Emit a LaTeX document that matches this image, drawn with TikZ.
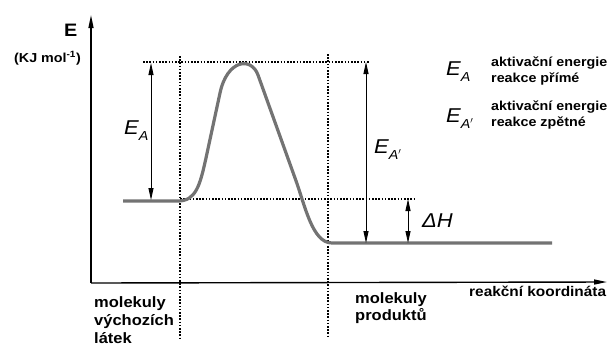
\documentclass[tikz,border=0pt]{standalone}
\usepackage{fontspec}
\setmainfont{Liberation Sans}[FakeStretch=1.1]
\usetikzlibrary{arrows.meta}
\newcommand{\Elab}[1]{{\fontsize{20}{20}\selectfont\itshape E}\raisebox{-6pt}{\fontsize{13}{13}\selectfont\itshape #1}}
\begin{document}
\begin{tikzpicture}[x=1pt,y=-1pt,
  axisline/.style={line width=1.4pt,-{Triangle[length=13pt,width=5pt]}},
  dotline/.style={line width=1.7pt,dash pattern=on 1.5pt off 1.7pt},
  energy/.style={line width=3.2pt,color=black!55,line join=round},
  dimarrow/.style={line width=0.9pt,{Triangle[length=12pt,width=5pt]}-{Triangle[length=12pt,width=5pt]}},
  lbl/.style={inner sep=0pt,anchor=base west,font=\bfseries\fontsize{15}{17}\selectfont},
  leg/.style={inner sep=0pt,anchor=base west,font=\bfseries\fontsize{13}{14}\selectfont},
  sym/.style={inner sep=0pt,anchor=base west}]
\useasboundingbox (0,0) rectangle (609,354);
% axes
\coordinate (o) at (91,283);
\coordinate (ytip) at (91,15);
\coordinate (xtip) at (607,282);
\draw[axisline] (o) -- (ytip);
\draw[axisline] (o) -- (xtip);
% reference points
\coordinate (lstart) at (123,201);
\coordinate (lend) at (178,201);
\coordinate (rstart) at (332,243);
\coordinate (rend) at (552,243);
% dotted guides
\coordinate (topL) at (143,62);
\coordinate (topR) at (369,62);
\coordinate (v1t) at (180,56);
\coordinate (v1b) at (180,338);
\coordinate (v2t) at (328,54);
\coordinate (v2b) at (328,336);
\coordinate (midL) at (180,199);
\coordinate (midR) at (416,199);
\draw[dotline] (topL) -- (topR);
\draw[dotline] (v1t) -- (v1b);
\draw[dotline] (v2t) -- (v2b);
\draw[dotline] (midL) -- (midR);
% energy curve
\draw[energy] (lstart) -- (lend) .. controls (196,201) and (200,185) .. (206,158)
  -- (220,93) .. controls (227,60) and (251,56) .. (258,75)
  -- (295,178) .. controls (305,205) and (312,243) .. (rstart) -- (rend);
% dimension arrows
\coordinate (ea1) at (151,63);
\coordinate (ea2) at (151,200);
\coordinate (eb1) at (366,62);
\coordinate (eb2) at (366,243);
\coordinate (dh1) at (408,199);
\coordinate (dh2) at (408,243);
\draw[dimarrow] (ea1) -- (ea2);
\draw[dimarrow] (eb1) -- (eb2);
\draw[dimarrow] (dh1) -- (dh2);
% labels on arrows
\node[sym] (lEA) at (124,134) {\Elab{A}};
\node[sym] (lEB) at (374,153) {\Elab{A$'$}};
\node[sym] (lDH) at (422,227) {\fontsize{20}{20}\selectfont\itshape ΔH};
% axis labels
\node[inner sep=0pt,anchor=base west,font=\bfseries\fontsize{18}{18}\selectfont] (yl) at (64,36) {E};
\node[inner sep=0pt,anchor=base west,font=\bfseries\fontsize{13}{14}\selectfont] (yu) at (14,62) {(KJ mol\textsuperscript{-1})};
\node[inner sep=0pt,anchor=base west,font=\bfseries\fontsize{14}{15}\selectfont] (xl) at (469,296) {reakční koordináta};
% legend
\node[sym] (gEA) at (446,75) {\Elab{A}};
\node[leg] (gA1) at (491,66) {aktivační energie};
\node[leg] (gA2) at (491,82) {reakce přímé};
\node[sym] (gEB) at (446,122) {\Elab{A$'$}};
\node[leg] (gB1) at (491,110) {aktivační energie};
\node[leg] (gB2) at (491,126) {reakce zpětné};
% bottom labels
\node[lbl] (m1) at (94,307) {molekuly};
\node[lbl] (m2) at (94,325) {výchozích};
\node[lbl] (m3) at (94,343) {látek};
\node[lbl] (p1) at (355,303) {molekuly};
\node[lbl] (p2) at (355,320) {produktů};
\end{tikzpicture}
\end{document}
